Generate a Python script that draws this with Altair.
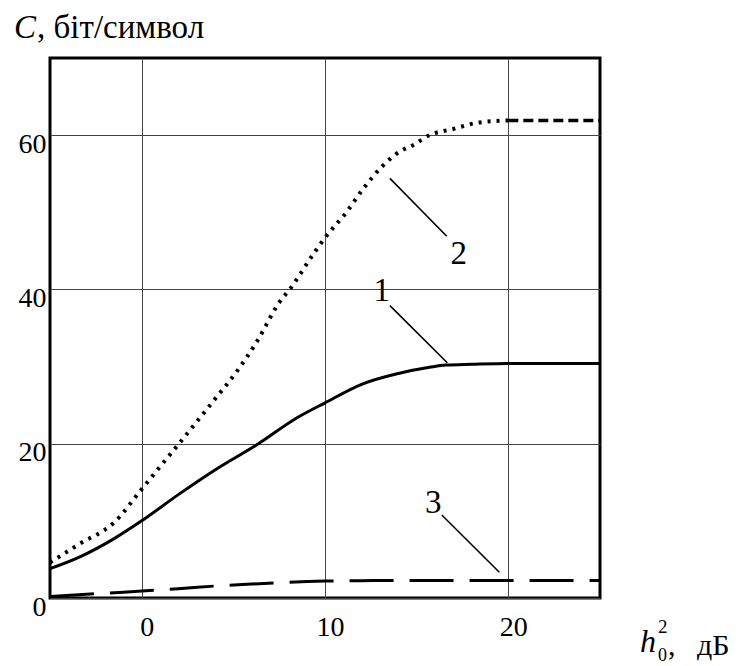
import altair as alt
import pandas as pd

# Curve 1 (solid)
x1 = [-5, -3.4, -1.5, 0, 2, 4, 6.3, 8.5, 10, 12, 14, 15.7, 16.6, 18, 20, 25]
c1 = [3.8, 5.3, 7.7, 10.0, 13.4, 16.6, 19.9, 23.4, 25.3, 27.7, 29.1, 29.9, 30.2, 30.3, 30.4, 30.4]

# Curve 2 (dotted)
x2 = [-5, -3.4, -1.5, 0, 1.2, 2, 3.9, 5.2, 6.3, 7.5, 8.1, 9.4, 10, 11.2, 12.1, 13.1,
      14.1, 14.8, 15.7, 17, 18.3, 20, 25]
c2 = [4.6, 7.0, 9.8, 14.1, 17.6, 19.9, 25.5, 29.4, 33.3, 38.3, 40.1, 44.7, 46.7, 50.1,
      53.1, 55.9, 57.9, 58.7, 60.0, 60.8, 61.6, 61.9, 61.9]

# Curve 3 (long dashes)
x3 = [-5, -3, -1, 0, 2, 4, 6, 8, 10, 12, 15, 25]
c3 = [0.2, 0.5, 0.75, 0.9, 1.2, 1.55, 1.8, 2.05, 2.2, 2.25, 2.27, 2.27]

# curve labels and leader lines
lab_text = ["1", "2", "3"]
lab_x = [13.1, 17.3, 15.9]
lab_y = [39.8, 44.6, 12.35]
lead_x = [13.54, 13.54, 16.37]
lead_y = [37.9, 54.4, 10.76]
lead_x2 = [16.67, 16.64, 19.51]
lead_y2 = [30.5, 46.9, 3.34]

x_ticks = [0, 10, 20]
y_ticks = [0, 20, 40, 60]

FONT = "Liberation Serif, Times New Roman, DejaVu Serif, serif"

xs = alt.Scale(domain=[-5, 25], nice=False, zero=False)
ys = alt.Scale(domain=[0, 70], nice=False)

xax = alt.Axis(values=x_ticks, title=None, domain=False, ticks=False, tickSize=0,
               labelPadding=15, labelOffset=5, labelFontSize=28, labelFont=FONT,
               labelColor="black", grid=True, gridColor="#444", gridWidth=1)
yax = alt.Axis(values=y_ticks, title=None, domain=False, ticks=False, tickSize=0,
               labelPadding=4, labelOffset=-5, labelBaseline="top", labelFontSize=28,
               labelFont=FONT, labelColor="black", grid=True, gridColor="#444", gridWidth=1)

d1 = pd.DataFrame({"x": x1, "y": c1})
d2 = pd.DataFrame({"x": x2, "y": c2})
d3 = pd.DataFrame({"x": x3, "y": c3})

line1 = alt.Chart(d1).mark_line(color="black", strokeWidth=3, interpolate="monotone").encode(
    x=alt.X("x:Q", scale=xs, axis=xax), y=alt.Y("y:Q", scale=ys, axis=yax))
line2a = alt.Chart(d2).transform_filter("datum.x <= 20").mark_line(
    color="black", strokeWidth=4, strokeDash=[3, 6], interpolate="monotone").encode(
    x=alt.X("x:Q", scale=xs), y=alt.Y("y:Q", scale=ys))
line2b = alt.Chart(d2).transform_filter("datum.x >= 20").mark_line(
    color="black", strokeWidth=3.5, strokeDash=[10, 5]).encode(
    x=alt.X("x:Q", scale=xs), y=alt.Y("y:Q", scale=ys))
line3 = alt.Chart(d3).mark_line(color="black", strokeWidth=3, strokeDash=[44, 16],
                                interpolate="monotone").encode(
    x=alt.X("x:Q", scale=xs), y=alt.Y("y:Q", scale=ys))

leads = alt.Chart(pd.DataFrame({"x": lead_x, "y": lead_y, "x2": lead_x2, "y2": lead_y2})).mark_rule(
    color="black", strokeWidth=1.6).encode(
    x=alt.X("x:Q", scale=xs), y=alt.Y("y:Q", scale=ys), x2="x2:Q", y2="y2:Q")
labels = alt.Chart(pd.DataFrame({"x": lab_x, "y": lab_y, "t": lab_text})).mark_text(
    font=FONT, fontSize=33, color="black", align="center", baseline="middle").encode(
    x=alt.X("x:Q", scale=xs), y=alt.Y("y:Q", scale=ys), text="t:N")


def txt(s, px, py, size, style="normal"):
    return alt.Chart(pd.DataFrame({"t": [s]})).mark_text(
        font=FONT, fontSize=size, fontStyle=style, color="black", align="left",
        baseline="alphabetic").encode(x=alt.value(px), y=alt.value(py), text="t:N")


title_c = txt("C", -36, -20, 33, "italic")
title_rest = txt(", біт/символ", -13, -20, 33)
xt_h = txt("h", 590, 594, 32, "italic")
xt_sup = txt("2", 608, 575, 19)
xt_sub = txt("0", 608, 603, 18)
xt_comma = txt(",", 618, 597, 30)
xt_unit = txt("дБ", 647, 597, 30)

chart = alt.layer(
    line1, line2a, line2b, line3, leads, labels,
    title_c, title_rest, xt_h, xt_sup, xt_sub, xt_comma, xt_unit
).properties(
    width=550, height=540,
    autosize=alt.AutoSizeParams(type="none"),
    padding={"left": 42, "top": 50, "right": 130, "bottom": 66},
    background="white",
).configure_view(stroke="black", strokeWidth=3)

chart.save("out.html", embed_options={"renderer": "svg", "actions": False})
